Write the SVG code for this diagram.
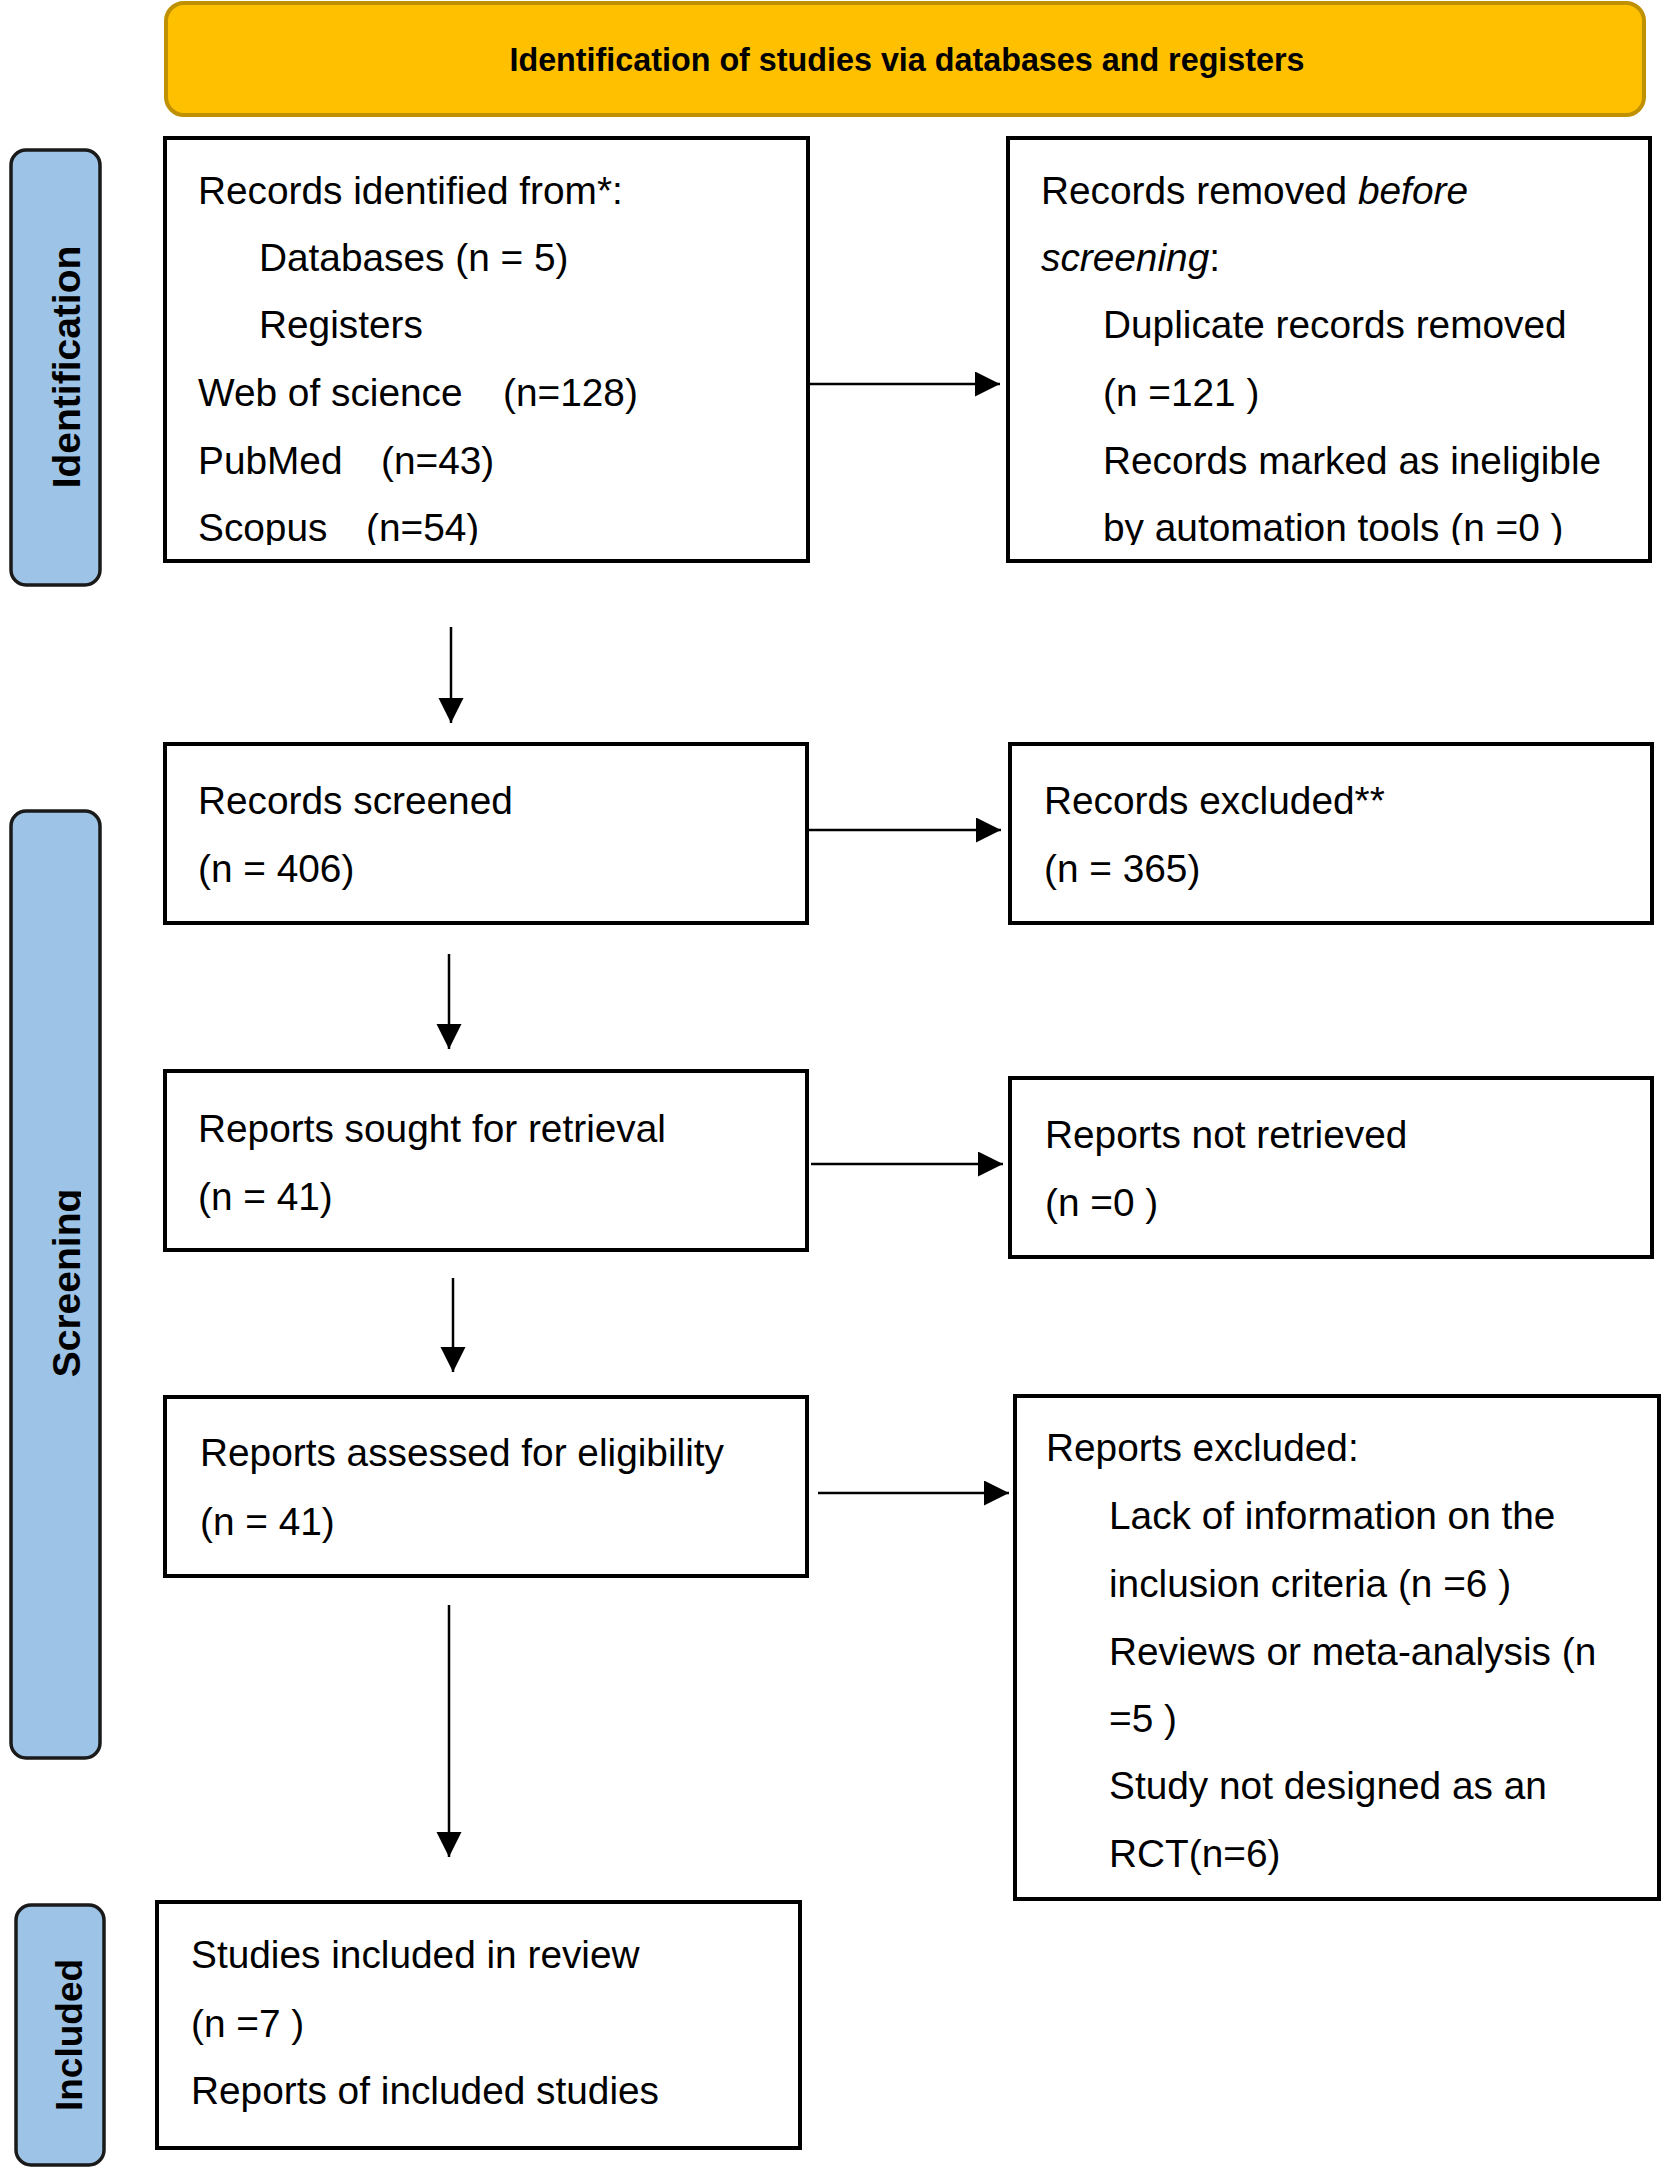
<svg xmlns="http://www.w3.org/2000/svg" width="1663" height="2174" viewBox="0 0 1663 2174">
<style>
.box{fill:#fff;stroke:#000;stroke-width:4}
.lab{fill:#9DC3E6;stroke:#1a1a1a;stroke-width:3.5}
.t{font-family:"Liberation Sans",Arial,sans-serif;font-size:38.8px;fill:#000}
.lt{font-family:"Liberation Sans",Arial,sans-serif;font-size:39px;font-weight:bold;fill:#000}
.ban{font-family:"Liberation Sans",Arial,sans-serif;font-size:32.3px;font-weight:bold;fill:#000}
.c{stroke:#000;stroke-width:2.5;fill:none}
</style>
<defs>
<marker id="ah" markerUnits="userSpaceOnUse" markerWidth="26" markerHeight="26" refX="25" refY="12.5" orient="auto" viewBox="0 0 26 26">
<path d="M0,0 L25,12.5 L0,25 Z" fill="#000"/>
</marker>
<clipPath id="clipTop" clipPathUnits="userSpaceOnUse"><rect x="0" y="0" width="1663" height="545"/></clipPath>
<clipPath id="clipScr" clipPathUnits="userSpaceOnUse"><rect x="0" y="0" width="81" height="2174"/></clipPath>
</defs>

<g id="banner">
<rect x="166" y="3" width="1478" height="112" rx="18" fill="#FFC000" stroke="#BF9000" stroke-width="4"/>
<text class="ban" x="907" y="71" text-anchor="middle">Identification of studies via databases and registers</text>
</g>

<g id="label-identification">
<rect class="lab" x="11" y="150" width="89" height="435" rx="15"/>
<text class="lt" transform="translate(80,367) rotate(-90)" text-anchor="middle">Identification</text>
</g>
<g id="label-screening">
<rect class="lab" x="11" y="811" width="89" height="947" rx="15"/>
<g clip-path="url(#clipScr)">
<text class="lt" transform="translate(80,1283) rotate(-90)" text-anchor="middle">Screening</text>
</g>
</g>
<g id="label-included">
<rect class="lab" x="16" y="1905" width="88" height="260" rx="15"/>
<text class="lt" style="font-size:37px" transform="translate(82,2035) rotate(-90)" text-anchor="middle">Included</text>
</g>

<g id="records-identified">
<rect class="box" x="165" y="138" width="643" height="423"/>
<g clip-path="url(#clipTop)">
<text class="t" x="198" y="204">Records identified from*:</text>
<text class="t" x="259" y="271">Databases (n = 5)</text>
<text class="t" x="259" y="338">Registers</text>
<text class="t" x="198" y="406">Web of science</text>
<text class="t" x="503" y="406">(n=128)</text>
<text class="t" x="198" y="474">PubMed</text>
<text class="t" x="381" y="474">(n=43)</text>
<text class="t" x="198" y="541">Scopus</text>
<text class="t" x="366" y="541">(n=54)</text>
</g>
</g>

<g id="records-removed">
<rect class="box" x="1008" y="138" width="642" height="423"/>
<g clip-path="url(#clipTop)">
<text class="t" x="1041" y="204">Records removed <tspan font-style="italic">before</tspan></text>
<text class="t" x="1041" y="271"><tspan font-style="italic">screening</tspan>:</text>
<text class="t" x="1103" y="338">Duplicate records removed</text>
<text class="t" x="1103" y="406">(n =121 )</text>
<text class="t" x="1103" y="474">Records marked as ineligible</text>
<text class="t" x="1103" y="541">by automation tools (n =0 )</text>
</g>
</g>

<g id="records-screened">
<rect class="box" x="165" y="744" width="642" height="179"/>
<text class="t" x="198" y="814">Records screened</text>
<text class="t" x="198" y="882">(n = 406)</text>
</g>

<g id="records-excluded">
<rect class="box" x="1010" y="744" width="642" height="179"/>
<text class="t" x="1044" y="814">Records excluded**</text>
<text class="t" x="1044" y="882">(n = 365)</text>
</g>

<g id="reports-sought">
<rect class="box" x="165" y="1071" width="642" height="179"/>
<text class="t" x="198" y="1142">Reports sought for retrieval</text>
<text class="t" x="198" y="1210">(n = 41)</text>
</g>

<g id="reports-not-retrieved">
<rect class="box" x="1010" y="1078" width="642" height="179"/>
<text class="t" x="1045" y="1148">Reports not retrieved</text>
<text class="t" x="1045" y="1216">(n =0 )</text>
</g>

<g id="reports-assessed">
<rect class="box" x="165" y="1397" width="642" height="179"/>
<text class="t" x="200" y="1466">Reports assessed for eligibility</text>
<text class="t" x="200" y="1535">(n = 41)</text>
</g>

<g id="reports-excluded">
<rect class="box" x="1015" y="1396" width="644" height="503"/>
<text class="t" x="1046" y="1461">Reports excluded:</text>
<text class="t" x="1109" y="1529">Lack of information on the</text>
<text class="t" x="1109" y="1597">inclusion criteria (n =6 )</text>
<text class="t" x="1109" y="1665">Reviews or meta-analysis (n</text>
<text class="t" x="1109" y="1732">=5 )</text>
<text class="t" x="1109" y="1799">Study not designed as an</text>
<text class="t" x="1109" y="1867">RCT(n=6)</text>
</g>

<g id="studies-included">
<rect class="box" x="157" y="1902" width="643" height="246"/>
<text class="t" x="191" y="1968">Studies included in review</text>
<text class="t" x="191" y="2037">(n =7 )</text>
<text class="t" x="191" y="2104">Reports of included studies</text>
</g>

<g id="connectors">
<line class="c" x1="808" y1="384" x2="1000" y2="384" marker-end="url(#ah)"/>
<line class="c" x1="807" y1="830" x2="1001" y2="830" marker-end="url(#ah)"/>
<line class="c" x1="811" y1="1164" x2="1003" y2="1164" marker-end="url(#ah)"/>
<line class="c" x1="818" y1="1493" x2="1009" y2="1493" marker-end="url(#ah)"/>
<line class="c" x1="451" y1="627" x2="451" y2="723" marker-end="url(#ah)"/>
<line class="c" x1="449" y1="954" x2="449" y2="1049" marker-end="url(#ah)"/>
<line class="c" x1="453" y1="1278" x2="453" y2="1372" marker-end="url(#ah)"/>
<line class="c" x1="449" y1="1605" x2="449" y2="1857" marker-end="url(#ah)"/>
</g>
</svg>
